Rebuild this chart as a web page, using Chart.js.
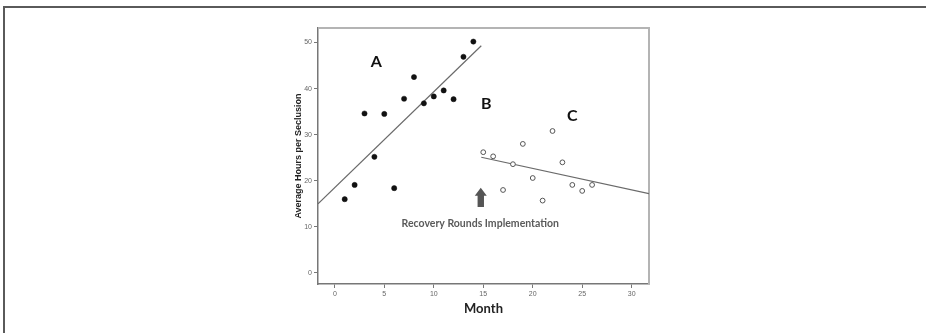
<!DOCTYPE html>
<html lang="en">
<head>
<meta charset="UTF-8" />
<title>Average Hours per Seclusion</title>
<script src="https://cdn.jsdelivr.net/npm/chart.js"></script>
<style>
  html, body {
    margin: 0;
    padding: 0;
    background: #fff;
  }
  #wrap {
    position: relative;
    width: 926px;
    height: 333px;
    overflow: hidden;
  }
  #frame {
    position: absolute;
    left: 3px;
    top: 6px;
    width: 960px;
    height: 360px;
    border-top: 2px solid #5a5a5a;
    border-left: 2px solid #5a5a5a;
    pointer-events: none;
  }
  #chart {
    position: absolute;
    left: 0;
    top: 0;
  }
</style>
</head>
<body>
<div id="wrap">
  <canvas id="chart" width="926" height="333"></canvas>
  <div id="frame"></div>
</div>

<script>
// before the intervention (filled dots)
var monthsA = [1, 2, 3, 4, 5, 6, 7, 8, 9, 10, 11, 12, 13, 14];
var hoursA = [16.0, 19.1, 34.6, 25.2, 34.5, 18.4, 37.8, 42.5, 36.8, 38.3, 39.6, 37.7, 46.9, 50.2];

// after Recovery Rounds (open circles)
var monthsC = [15, 16, 17, 18, 19, 20, 21, 22, 23, 24, 25, 26];
var hoursC = [26.2, 25.3, 18.0, 23.6, 28.0, 20.6, 15.7, 30.8, 24.0, 19.1, 17.8, 19.1];

// fit lines, end points
var fitAMonths = [-1.7, 14.8];
var fitAHours = [15.0, 49.3];
var fitCMonths = [14.8, 31.75];
var fitCHours = [25.1, 17.2];

var xTicks = [0, 5, 10, 15, 20, 25, 30];
var yTicks = [0, 10, 20, 30, 40, 50];

// labels placed in data units
var labels = [
  { text: "A", month: 4.2, hours: 45.8 },
  { text: "B", month: 15.3, hours: 36.7 },
  { text: "C", month: 24.0, hours: 34.0 }
];
var arrowMonth = 14.75;
var arrowFrom = 14.3;
var arrowTo = 18.5;
var noteText = "Recovery Rounds Implementation";
var noteMonth = 14.7;
var noteHours = 10.6;

function pts(xs, ys) {
  return xs.map(function (x, i) { return { x: x, y: ys[i] }; });
}

var decor = {
  id: "decor",
  beforeDatasetsDraw: function (chart) {
    var a = chart.chartArea, c = chart.ctx;
    c.save();
    c.strokeStyle = "#b4b4b4";
    c.lineWidth = 2;
    c.beginPath();
    c.moveTo(a.left, a.top);
    c.lineTo(a.right, a.top);
    c.lineTo(a.right, a.bottom);
    c.stroke();
    c.restore();
  },
  afterDatasetsDraw: function (chart) {
    var c = chart.ctx, xs = chart.scales.x, ys = chart.scales.y;
    c.save();
    c.fillStyle = "#111";
    c.font = "bold 16px Lato, 'Open Sans', sans-serif";
    c.textAlign = "center";
    c.textBaseline = "middle";
    labels.forEach(function (l) {
      c.fillText(l.text, xs.getPixelForValue(l.month), ys.getPixelForValue(l.hours));
    });

    // arrow
    var ax = xs.getPixelForValue(arrowMonth);
    var y0 = ys.getPixelForValue(arrowFrom);
    var y1 = ys.getPixelForValue(arrowTo);
    c.fillStyle = "#555";
    c.beginPath();
    c.moveTo(ax - 3.2, y0);
    c.lineTo(ax - 3.2, y1 + 8);
    c.lineTo(ax - 6, y1 + 8);
    c.lineTo(ax, y1);
    c.lineTo(ax + 6, y1 + 8);
    c.lineTo(ax + 3.2, y1 + 8);
    c.lineTo(ax + 3.2, y0);
    c.closePath();
    c.fill();

    c.fillStyle = "#5a5a5a";
    c.font = "bold 10.5px Lato, sans-serif";
    c.fillText(noteText, xs.getPixelForValue(noteMonth), ys.getPixelForValue(noteHours));
    c.restore();
  }
};

var ctx = document.getElementById("chart").getContext("2d");
new Chart(ctx, {
  type: "scatter",
  data: {
    datasets: [
      {
        label: "before",
        data: pts(monthsA, hoursA),
        pointRadius: 2.6,
        pointBackgroundColor: "#111",
        pointBorderColor: "#111",
        pointBorderWidth: 0.5
      },
      {
        label: "after",
        data: pts(monthsC, hoursC),
        pointRadius: 2.4,
        pointBackgroundColor: "#fff",
        pointBorderColor: "#555",
        pointBorderWidth: 1
      },
      {
        label: "fit A",
        type: "line",
        data: pts(fitAMonths, fitAHours),
        borderColor: "#6a6a6a",
        borderWidth: 1.2,
        pointRadius: 0,
        fill: false
      },
      {
        label: "fit C",
        type: "line",
        data: pts(fitCMonths, fitCHours),
        borderColor: "#6a6a6a",
        borderWidth: 1.2,
        pointRadius: 0,
        fill: false
      }
    ]
  },
  options: {
    responsive: false,
    animation: false,
    layout: { padding: { left: 293, right: 277, top: 28, bottom: 9 } },
    plugins: {
      legend: { display: false },
      tooltip: { enabled: false }
    },
    scales: {
      x: {
        type: "linear",
        min: -1.7,
        max: 31.75,
        afterFit: function (s) { s.height = 40; },
        afterBuildTicks: function (s) {
          s.ticks = xTicks.map(function (v) { return { value: v }; });
        },
        ticks: {
          autoSkip: false,
          maxRotation: 0,
          padding: 2,
          color: "#666",
          font: { family: "'Liberation Sans', Arial, sans-serif", size: 7 }
        },
        grid: {
          drawOnChartArea: false,
          drawTicks: true,
          tickLength: 4,
          color: "#777"
        },
        border: { color: "#777", width: 1.5 },
        title: {
          display: true,
          text: "Month",
          color: "#222",
          padding: { top: 0, bottom: 7 },
          font: { family: "Lato, sans-serif", size: 13, weight: "bold" }
        }
      },
      y: {
        type: "linear",
        min: -2.4,
        max: 53.15,
        afterFit: function (s) { s.width = 25; },
        afterBuildTicks: function (s) {
          s.ticks = yTicks.map(function (v) { return { value: v }; });
        },
        ticks: {
          autoSkip: false,
          padding: 2,
          color: "#666",
          font: { family: "'Liberation Sans', Arial, sans-serif", size: 7 }
        },
        grid: {
          drawOnChartArea: false,
          drawTicks: true,
          tickLength: 4,
          color: "#777"
        },
        border: { color: "#777", width: 1.5 },
        title: {
          display: true,
          text: "Average Hours per Seclusion",
          color: "#222",
          padding: { top: 0, bottom: 0 },
          font: { family: "'Liberation Sans', Arial, sans-serif", size: 9, weight: "bold" }
        }
      }
    }
  },
  plugins: [decor]
});
</script>
</body>
</html>
